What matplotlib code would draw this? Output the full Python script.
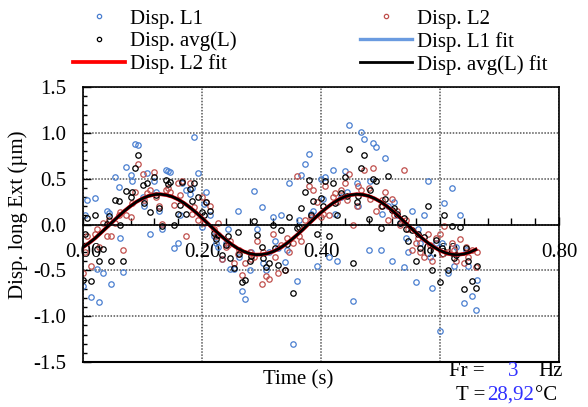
import numpy as np
import matplotlib
matplotlib.use("Agg")
import matplotlib.pyplot as plt
from matplotlib.ticker import MultipleLocator, FormatStrFormatter

plt.rcParams['font.family'] = ['Liberation Serif', 'DejaVu Serif']
plt.rcParams['axes.unicode_minus'] = False

# sample times (s); the last block holds the in-between samples
time = [0.000, 0.007, 0.013, 0.020, 0.027, 0.033, 0.040, 0.047, 0.053, 0.060,
        0.067, 0.073, 0.080, 0.087, 0.093, 0.100, 0.107, 0.113, 0.120, 0.127,
        0.133, 0.140, 0.147, 0.153, 0.160, 0.167, 0.173, 0.180, 0.187, 0.193,
        0.200, 0.207, 0.213, 0.220, 0.227, 0.233, 0.240, 0.247, 0.253, 0.260,
        0.267, 0.273, 0.280, 0.287, 0.293, 0.300, 0.307, 0.313, 0.320, 0.327,
        0.333, 0.340, 0.347, 0.353, 0.360, 0.367, 0.373, 0.380, 0.387, 0.393,
        0.400, 0.407, 0.413, 0.420, 0.427, 0.433, 0.440, 0.447, 0.453, 0.460,
        0.467, 0.473, 0.480, 0.487, 0.493, 0.500, 0.507, 0.513, 0.520, 0.527,
        0.533, 0.540, 0.547, 0.553, 0.560, 0.567, 0.573, 0.580, 0.587, 0.593,
        0.600, 0.607, 0.613, 0.620, 0.627, 0.633, 0.640, 0.647, 0.653, 0.660,
        0.003, 0.023, 0.043, 0.063, 0.083, 0.103, 0.123, 0.143, 0.163, 0.183,
        0.203, 0.223, 0.243, 0.263, 0.283, 0.303, 0.323, 0.343, 0.363, 0.383,
        0.403, 0.423, 0.443, 0.463, 0.483, 0.503, 0.523, 0.543, 0.563, 0.583,
        0.603, 0.623, 0.643, 0.663]

disp_L1 = [-0.67, 0.27, -0.79, 0.29, -0.85, -0.53, 0.15, -0.65, 0.52, 0.41,
           -0.52, 0.63, 0.54, 0.88, 0.87, 0.30, 0.56, -0.10, 0.47, 0.15,
           -0.05, 0.60, 0.57, -0.26, -0.20, 0.45, 0.38, 0.33, 0.96, 0.56,
           -0.03, 0.35, 0.10, -0.12, -0.25, -0.38, -0.20, -0.49, -0.49, 0.15,
           -0.72, -0.81, -0.50, 0.37, -0.05, 0.19, -0.50, -0.30, 0.08, -0.26,
           0.10, -0.41, 0.45, -1.30, -0.62, 0.54, 0.66, 0.77, 0.15, -0.45,
           0.50, 0.52, -0.35, 0.60, -0.40, 0.30, 0.58, 1.09, -0.83, 0.45,
           1.01, 0.93, -0.28, 0.89, 0.85, -0.28, 0.73, 0.20, -0.40, 0.10,
           0.02, -0.46, -0.30, 0.15, -0.63, -0.20, 0.10, 0.48, -0.69, -0.20,
           -1.16, 0.24, -0.53, 0.40, -0.25, 0.10, -0.86, -0.45, -0.78, -0.93,
           0.10, -0.48, 0.13, -0.15, 0.48, 0.20, 0.35, 0.58, 0.10, 0.40,
           0.22, -0.20, -0.05, -0.35, -0.30, -0.42, -0.18, -0.28, 0.05, 0.12,
           0.28, 0.12, 0.35, 0.20, 0.48, 0.12, 0.25, -0.15, -0.05, -0.35,
           -0.20, -0.45, -0.28, -0.60]

disp_L2 = [-0.53, -0.12, -0.45, -0.10, -0.25, 0.02, -0.13, -0.12, 0.02, 0.10,
           -0.28, 0.10, 0.08, 0.35, 0.66, 0.55, 0.34, 0.38, 0.57, 0.20,
           0.01, 0.38, 0.35, 0.21, 0.45, 0.47, -0.13, 0.45, 0.19, 0.05,
           0.30, 0.25, 0.20, -0.05, 0.02, -0.38, -0.25, -0.18, -0.42, -0.32,
           -0.55, -0.42, -0.30, -0.35, -0.18, -0.65, -0.56, -0.59, -0.10, -0.53,
           -0.22, -0.50, -0.30, -0.20, 0.53, -0.18, 0.05, 0.42, 0.38, 0.25,
           0.08, 0.42, 0.10, 0.30, 0.25, 0.38, 0.45, 0.55, 0.00, 0.20,
           0.38, 0.60, 0.40, 0.62, 0.15, 0.20, 0.35, 0.05, 0.28, 0.15,
           0.00, 0.60, -0.05, -0.28, -0.20, -0.30, -0.35, -0.10, -0.40, -0.15,
           -0.10, -0.02, -0.30, -0.20, -0.40, -0.16, -0.42, -0.35, -0.28, -0.46,
           -0.30, -0.05, 0.05, 0.14, 0.23, 0.27, 0.30, 0.40, 0.32, 0.12,
           0.02, -0.12, -0.22, -0.28, -0.38, -0.30, -0.35, -0.15, -0.12, 0.08,
           0.12, 0.34, 0.27, 0.42, 0.28, 0.27, 0.10, 0.05, -0.15, -0.22,
           -0.32, -0.28, -0.24, -0.30]

disp_avg = [-0.60, 0.07, -0.62, 0.10, -0.40, -0.27, 0.01, -0.40, 0.27, 0.26,
            -0.40, 0.37, 0.30, 0.62, 0.76, 0.43, 0.45, 0.14, 0.52, 0.18,
            -0.02, 0.49, 0.46, 0.00, 0.12, 0.46, 0.12, 0.39, 0.45, 0.30,
            0.14, 0.25, 0.15, -0.09, -0.11, -0.33, -0.22, -0.36, -0.47, -0.08,
            -0.63, -0.60, -0.40, 0.04, -0.11, -0.24, -0.46, -0.42, 0.00, -0.44,
            -0.06, -0.50, 0.08, -0.75, -0.04, 0.18, 0.36, 0.49, 0.26, -0.10,
            0.29, 0.47, -0.12, 0.45, 0.10, 0.34, 0.52, 0.82, -0.42, 0.25,
            0.62, 0.76, 0.06, 0.50, 0.48, -0.04, 0.28, 0.53, 0.16, 0.12,
            0.02, 0.07, -0.18, -0.06, -0.40, -0.26, -0.14, 0.20, -0.50, -0.17,
            -0.63, 0.10, -0.50, -0.02, -0.33, -0.03, -0.70, -0.40, -0.62, -0.69,
            -0.10, -0.27, 0.09, 0.00, 0.35, 0.24, 0.32, 0.44, 0.21, 0.26,
            0.10, -0.16, -0.13, -0.32, -0.34, -0.36, -0.26, -0.21, -0.03, 0.10,
            0.20, 0.23, 0.31, 0.31, 0.38, 0.20, 0.18, -0.05, -0.10, -0.28,
            -0.26, -0.36, -0.26, -0.45]

# fitted curves
fit_time = [0.00, 0.01, 0.02, 0.03, 0.04, 0.05, 0.06, 0.07, 0.08, 0.09,
            0.10, 0.11, 0.12, 0.13, 0.14, 0.15, 0.16, 0.17, 0.18, 0.19,
            0.20, 0.21, 0.22, 0.23, 0.24, 0.25, 0.26, 0.27, 0.28, 0.29,
            0.30, 0.31, 0.32, 0.33, 0.34, 0.35, 0.36, 0.37, 0.38, 0.39,
            0.40, 0.41, 0.42, 0.43, 0.44, 0.45, 0.46, 0.47, 0.48, 0.49,
            0.50, 0.51, 0.52, 0.53, 0.54, 0.55, 0.56, 0.57, 0.58, 0.59,
            0.60, 0.61, 0.62, 0.63, 0.64, 0.65, 0.66]

fit_avg = [-0.248, -0.203, -0.152, -0.092, -0.031, 0.031, 0.092, 0.150, 0.202, 0.248,
           0.284, 0.311, 0.326, 0.330, 0.322, 0.303, 0.273, 0.233, 0.185, 0.131,
           0.072, 0.010, -0.052, -0.112, -0.168, -0.218, -0.261, -0.294, -0.317, -0.329,
           -0.328, -0.317, -0.294, -0.261, -0.218, -0.168, -0.112, -0.052, 0.011, 0.072,
           0.131, 0.185, 0.233, 0.273, 0.303, 0.322, 0.330, 0.326, 0.311, 0.284,
           0.248, 0.203, 0.150, 0.093, 0.031, -0.031, -0.092, -0.150, -0.202, -0.247,
           -0.284, -0.311, -0.326, -0.330, -0.322, -0.303, -0.273]
fit_L1 = fit_avg
fit_L2 = fit_avg

blue = '#4a7fd0'
red = '#c0504d'
fs = 15

fig = plt.figure(figsize=(5.88, 4.07), dpi=100)
ax = fig.add_axes([83/588, 45/407, 476/588, 275/407])

ax.plot(time, disp_L1, 'o', ls='none', mfc='none', mec=blue, ms=3.9, mew=0.9, label='Disp. L1')
ax.plot(time, disp_L2, 'o', ls='none', mfc='none', mec=red, ms=3.9, mew=0.9, label='Disp. L2')
ax.plot(time, disp_avg, 'o', ls='none', mfc='none', mec='black', ms=3.9, mew=0.9, label='Disp. avg(L)')
ax.plot(fit_time, fit_L1, color='#6a9be0', lw=2.4, label='Disp. L1 fit')
ax.plot(fit_time, fit_L2, color='red', lw=2.7, label='Disp. L2 fit')
ax.plot(fit_time, fit_avg, color='black', lw=2.0, label='Disp. avg(L) fit')

ax.set_xlim(0, 0.8)
ax.set_ylim(-1.5, 1.5)

ax.spines['bottom'].set_position(('data', 0))
for s in ['bottom', 'left', 'top', 'right']:
    ax.spines[s].set_linewidth(1.2)
ax.axhline(-1.5, color='black', lw=1.5, clip_on=False)

ax.xaxis.set_major_locator(MultipleLocator(0.2))
ax.xaxis.set_minor_locator(MultipleLocator(0.04))
ax.xaxis.set_major_formatter(FormatStrFormatter('%.2f'))
ax.yaxis.set_major_locator(MultipleLocator(0.5))
ax.yaxis.set_minor_locator(MultipleLocator(0.1))
ax.yaxis.set_major_formatter(FormatStrFormatter('%.1f'))

ax.tick_params(axis='x', which='major', direction='in', length=6, width=1, labelsize=fs, pad=13)
ax.tick_params(axis='x', which='minor', direction='in', length=5, width=1)
ax.tick_params(axis='y', which='major', direction='in', length=6, width=1, labelsize=fs, pad=12)
ax.tick_params(axis='y', which='minor', direction='in', length=3, width=1)

ax.grid(True, which='major', color='#555555', ls=(0, (1, 1)), lw=1.1)
ax.set_axisbelow(True)

ax.set_ylabel('Disp. long Ext (µm)', fontsize=fs)
ax.yaxis.set_label_coords(-0.116, 0.535)

fig.text(298/588, 1 - 380/407, 'Time (s)', ha='center', va='center', fontsize=fs)
fig.text(485/588, 1 - 372/407, 'Fr =', ha='right', va='center', fontsize=fs)
fig.text(513/588, 1 - 372/407, '3', ha='center', va='center', fontsize=fs, color='#3030ff')
fig.text(538/588, 1 - 372/407, 'Hz', ha='left', va='center', fontsize=fs)
fig.text(485/588, 1 - 395/407, 'T =', ha='right', va='center', fontsize=fs)
fig.text(487/588, 1 - 395/407, '28,92', ha='left', va='center', fontsize=fs, color='#3030ff')
fig.text(535/588, 1 - 395/407, '°C', ha='left', va='center', fontsize=fs)

h = {l.get_label(): l for l in ax.get_lines()}
order = ['Disp. L1', 'Disp. avg(L)', 'Disp. L2 fit', 'Disp. L2', 'Disp. L1 fit', 'Disp. avg(L) fit']
fig.legend([h[k] for k in order], order, ncol=2, loc='upper left',
           bbox_to_anchor=(73/588, 1 - 9/407), frameon=False, fontsize=fs,
           handlelength=2.5, handletextpad=0.25, columnspacing=5.9,
           labelspacing=0.15, borderpad=0, borderaxespad=0, markerscale=0.8)

fig.savefig('out.png', dpi=100)
